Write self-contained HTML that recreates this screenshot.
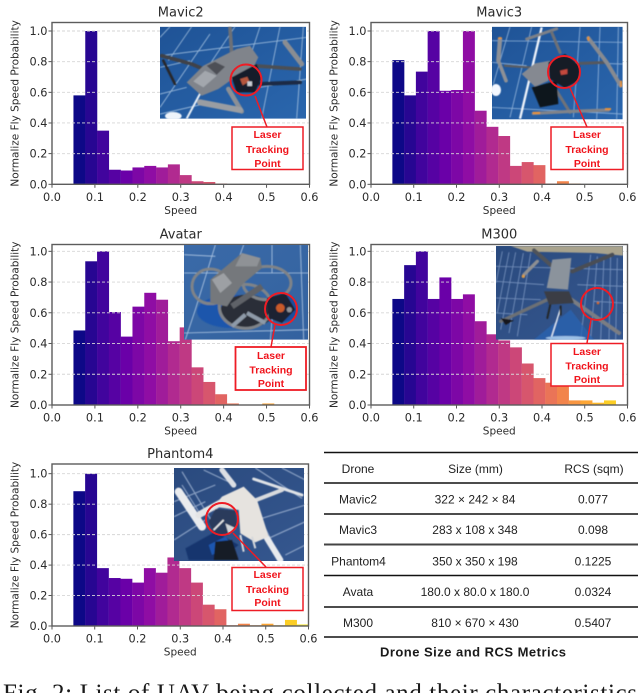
<!DOCTYPE html>
<html lang="en">
<head>
<meta charset="utf-8">
<title>UAV fly speed distributions and drone metrics</title>
<style>
html,body{margin:0;padding:0;background:#fff;width:640px;height:693px;overflow:hidden}
svg{display:block}
.title{font:13px "DejaVu Sans",sans-serif;fill:#2b2b2b;text-anchor:middle}
.tick{font:11.3px "DejaVu Sans",sans-serif;fill:#2b2b2b}
.axis-label{font:10.5px "DejaVu Sans",sans-serif;fill:#2b2b2b;text-anchor:middle}
.call{font:bold 10.5px "Liberation Sans",sans-serif;fill:#f0141c;text-anchor:middle}
.cell{font:12px "Liberation Sans",sans-serif;fill:#222;text-anchor:middle}
</style>
</head>
<body>
<svg id="figure" xmlns="http://www.w3.org/2000/svg" width="640" height="693" viewBox="0 0 640 693">
<defs>
<filter id="soft" x="-5%" y="-5%" width="110%" height="110%"><feGaussianBlur stdDeviation="1.8"/></filter>
<linearGradient id="panelA" x1="0" y1="0" x2="1" y2="1"><stop offset="0" stop-color="#1f5396"/><stop offset="1" stop-color="#2a66ad"/></linearGradient>
<linearGradient id="panelB" x1="0" y1="0" x2="1" y2="1"><stop offset="0" stop-color="#3a6aa8"/><stop offset="1" stop-color="#34629f"/></linearGradient>
<linearGradient id="panelC" x1="0" y1="0" x2="1" y2="1"><stop offset="0" stop-color="#2a4a7e"/><stop offset="1" stop-color="#35578f"/></linearGradient>
</defs>

<g id="plot-mavic2"></g>
<g id="plot-mavic3"></g>
<g id="plot-avatar"></g>
<g id="plot-m300"></g>
<g id="plot-phantom4"></g>

<!-- Mavic2 photo -->
<svg x="160" y="26.7" width="146" height="92" viewBox="0 8 438 276">
<rect x="0" y="8" width="438" height="276" fill="url(#panelA)"/>
<g filter="url(#soft)">
<g stroke="#b9d2ea" stroke-width="2.5" fill="none" opacity=".8"><path d="M0 40L30 8M25 110L95 8M0 250L150 30M150 120L225 8M300 8L270 100M360 8L305 284M430 8L410 284M0 95L440 40M0 210L80 190M300 190L440 165M0 270L130 240M0 130L90 110"/></g>
<path d="M80 284L125 200" stroke="#e8f0f8" stroke-width="6"/>
<ellipse cx="40" cy="276" rx="25" ry="12" fill="#eef4fb"/>
<g fill="none" stroke-linecap="round">
<path d="M5 95L95 120L130 135" stroke="#3f4248" stroke-width="11"/>
<path d="M10 110L45 180" stroke="#25272c" stroke-width="8"/>
<path d="M210 10L215 90" stroke="#6d7076" stroke-width="11"/>
<path d="M280 125L420 135" stroke="#4c4f55" stroke-width="11"/>
<path d="M375 55L425 120" stroke="#8a8d92" stroke-width="15"/>
<path d="M205 195L245 262" stroke="#8b8f95" stroke-width="14"/>
<path d="M120 235L240 258" stroke="#9a9da2" stroke-width="18"/>
<path d="M300 180L420 175" stroke="#1a2a44" stroke-width="12"/>
</g>
<path d="M80 175L130 125L230 75L270 65L295 100L280 130L210 170L175 195L125 215Z" fill="#80848b"/>
<path d="M100 172L135 140L170 155L130 190Z" fill="#a3a7ad"/>
<path d="M140 125L165 113L195 128L170 152Z" fill="#4d5056"/>
<path d="M215 160L290 120L305 160L285 205L230 205Z" fill="#161d2a"/>
<path d="M240 165L262 158L268 172L248 184Z" fill="#b5573d"/>
<rect x="262" y="172" width="14" height="14" fill="#c8ccd2"/>
</g>
</svg>

<!-- Mavic3 photo -->
<svg x="492" y="26.7" width="130.7" height="92.7" viewBox="6 8 392 278">
<rect x="6" y="8" width="392" height="278" fill="url(#panelA)"/>
<g filter="url(#soft)">
<g stroke="#a9c6e6" stroke-width="2.5" fill="none" opacity=".8"><path d="M60 8L10 180M125 8L60 280M270 8L250 280M330 8L320 286M385 8L380 286M6 50L400 55M6 115L110 125M250 115L400 120M6 250L400 270"/></g>
<path d="M155 10L90 284" stroke="#eef3fa" stroke-width="7"/>
<ellipse cx="18" cy="198" rx="15" ry="18" fill="#f4f8ff"/>
<g fill="none" stroke-linecap="round">
<path d="M110 45L200 14" stroke="#7d8087" stroke-width="9"/>
<path d="M185 25L210 85" stroke="#6d7076" stroke-width="9"/>
<path d="M30 45L25 110" stroke="#8d9096" stroke-width="13"/>
<path d="M25 110L48 170" stroke="#8d9096" stroke-width="11"/>
<path d="M45 125L120 130" stroke="#5a5d63" stroke-width="7"/>
<path d="M270 118L350 115" stroke="#55585e" stroke-width="9"/>
<path d="M295 42L350 115L392 185" stroke="#878a90" stroke-width="12"/>
<path d="M190 185L240 265" stroke="#6f7278" stroke-width="9"/>
<path d="M130 268L245 262L355 258" stroke="#80838a" stroke-width="10"/>
</g>
<path d="M95 150L135 118L180 110L175 170L135 188Z" fill="#858991"/>
<path d="M125 190L200 170L205 240L150 250Z" fill="#11151f"/>
<path d="M175 115L225 90L270 125L265 170L225 192L180 165Z" fill="#141a28"/>
<path d="M210 140L232 135L232 150L213 153Z" fill="#c44a3c"/>
<g fill="#e59234"><rect x="24" y="40" width="12" height="5"/><rect x="128" y="264" width="22" height="6"/><rect x="345" y="252" width="18" height="6"/><rect x="292" y="38" width="6" height="12"/><rect x="390" y="170" width="6" height="18"/></g>
</g>
</svg>

<!-- Avatar photo -->
<svg x="184" y="245" width="124" height="94.7" viewBox="6 6 372 284">
<rect x="6" y="6" width="372" height="284" fill="url(#panelB)"/>
<g filter="url(#soft)">
<g stroke="#c2d6ec" stroke-width="2.5" fill="none" opacity=".85"><path d="M100 6L40 200L10 290M185 6L165 60M270 6L270 90M355 6L365 290M6 90L380 90M6 270L380 260M270 230L265 290M6 35L100 40"/></g>
<ellipse cx="150" cy="205" rx="105" ry="50" fill="#1e56ac"/>
<ellipse cx="305" cy="195" rx="42" ry="42" fill="#1e4f9e"/>
<ellipse cx="195" cy="205" rx="80" ry="50" fill="#2a2e39"/>
<g fill="none" stroke="#7f8388" stroke-width="9">
<ellipse cx="85" cy="130" rx="55" ry="52"/>
<ellipse cx="255" cy="120" rx="72" ry="50"/>
<ellipse cx="190" cy="190" rx="78" ry="66"/>
</g>
<path d="M85 110L180 30L235 45L240 75L180 125L135 190L85 180Z" fill="#75787c"/>
<path d="M90 110L125 90L150 120L115 150Z" fill="#9da0a4"/>
<path d="M180 30L235 45L225 70L160 70Z" fill="#8f9296"/>
<path d="M150 190L240 130" stroke="#5f6267" stroke-width="18"/>
<path d="M195 210L250 240M190 215L150 250" stroke="#8e9aa8" stroke-width="12"/>
<path d="M255 165L310 150L340 200L300 240L260 225Z" fill="#1b2230"/>
<circle cx="295" cy="195" r="13" fill="#c85a2a"/>
<circle cx="322" cy="200" r="8" fill="#8e9196"/>
</g>
</svg>

<!-- M300 photo -->
<svg x="496" y="246" width="127" height="93.7" viewBox="6 9 381 281">
<rect x="6" y="9" width="381" height="281" fill="url(#panelC)"/>
<g filter="url(#soft)">
<path d="M50 9H387V38L300 30L100 26Z" fill="#a9a38d"/>
<g stroke="#9db5da" stroke-width="2.5" fill="none" opacity=".65"><path d="M25 25L6 120M65 28L20 260M110 30L70 280M290 35L260 290M330 40L320 290M370 45L365 290M6 70L387 80M6 115L150 125M250 125L387 130M6 165L140 170M300 175L387 180M6 210L100 215"/><path d="M45 28L10 210M88 30L45 270M310 40L290 290M350 42L345 290"/></g>
<path d="M120 290L230 200L300 290Z" fill="#2a64b2" opacity=".75"/>
<path d="M170 290L200 195" stroke="#e6eef8" stroke-width="4"/>
<ellipse cx="215" cy="285" rx="60" ry="6" fill="#9cc0e6"/>
<g fill="none" stroke-linecap="round">
<path d="M120 22L175 70" stroke="#50535a" stroke-width="12"/>
<path d="M355 35L235 85" stroke="#4a4d54" stroke-width="12"/>
<path d="M20 235L160 170" stroke="#6c6f75" stroke-width="10"/>
<path d="M225 165L375 270" stroke="#7a7d83" stroke-width="12"/>
<path d="M170 180L160 225M200 190L200 215" stroke="#24262c" stroke-width="6"/>
<path d="M90 95L130 55" stroke="#8d8f92" stroke-width="10"/>
</g>
<path d="M20 225L60 232L35 246Z" fill="#16181d"/>
<path d="M175 50L232 45L222 140L158 135Z" fill="#8b939c"/>
<path d="M150 145L225 145L240 180L165 185Z" fill="#3b3e45"/>
<circle cx="312" cy="180" r="4" fill="#d6692d"/>
<circle cx="88" cy="100" r="5" fill="#d89a4a"/>
</g>
</svg>

<!-- Phantom4 photo -->
<svg x="174" y="468" width="130" height="93" viewBox="6 9 390 279">
<rect x="6" y="9" width="390" height="279" fill="url(#panelC)"/>
<g filter="url(#soft)">
<g stroke="#a9bcd8" stroke-width="3.5" fill="none" opacity=".75"><path d="M30 20L120 170M95 15L190 60M6 110L130 60M6 155L100 110M6 225L100 165M270 160L400 120M290 220L400 170M340 270L400 240M30 60L80 140M250 9L390 100M330 9L400 45M250 130L320 270"/></g>
<path d="M40 250L130 200L200 240L140 285H50Z" fill="#17366e"/>
<path d="M110 240L160 215L180 240L120 270Z" fill="#1f57b0"/>
<path d="M125 285H200L180 225L130 230Z" fill="#171c28"/>
<g fill="none" stroke-linecap="round">
<path d="M20 80L90 185" stroke="#e9ebee" stroke-width="24"/>
<path d="M150 15L185 60" stroke="#dcdfe4" stroke-width="16"/>
<path d="M245 42L390 90" stroke="#dfe2e6" stroke-width="9"/>
<path d="M285 220L325 285" stroke="#e8eaed" stroke-width="18"/>
<path d="M80 150L170 100" stroke="#e4e4e5" stroke-width="20"/>
<path d="M240 110L330 75" stroke="#d8dadd" stroke-width="12"/>
</g>
<path d="M150 95L215 65L255 105L290 215L250 232L205 205L200 135L125 125Z" fill="#e6e3df"/>
<path d="M110 170L130 132L190 137L195 180L170 210L125 205Z" fill="#2a3a5c"/>
<path d="M125 195L155 165" stroke="#e6e8ea" stroke-width="5"/>
<path d="M160 175L192 190L170 208Z" fill="#d2d5d9"/>
<path d="M205 210L215 260M240 215L250 250" stroke="#d6d8db" stroke-width="6"/>
</g>
</svg>

<!-- Callouts -->
<g fill="none" stroke="#ee1c25">
<circle cx="246" cy="80" r="15.5" stroke-width="2"/><path d="M255 96L267 127" stroke-width="1.5"/>
<rect x="232" y="127" width="71" height="42.5" fill="#fff" stroke-width="1.5"/>
</g>
<g><text class="call" x="267.5" y="138">Laser</text><text class="call" x="267.5" y="153">Tracking</text><text class="call" x="267.5" y="167">Point</text></g>

<g fill="none" stroke="#ee1c25">
<circle cx="564" cy="72" r="16" stroke-width="2"/><path d="M570 88L587 127" stroke-width="1.5"/>
<rect x="551" y="127" width="72" height="42.5" fill="#fff" stroke-width="1.5"/>
</g>
<g><text class="call" x="587" y="138">Laser</text><text class="call" x="587" y="153">Tracking</text><text class="call" x="587" y="167">Point</text></g>

<g fill="none" stroke="#ee1c25">
<circle cx="281" cy="309" r="16" stroke-width="2"/><path d="M275 325L271 347" stroke-width="1.5"/>
<rect x="235.500" y="347" width="70.500" height="43" fill="#fff" stroke-width="1.800"/>
</g>
<g><text class="call" x="271" y="359">Laser</text><text class="call" x="271" y="373.500">Tracking</text><text class="call" x="271" y="387">Point</text></g>

<g fill="none" stroke="#ee1c25">
<circle cx="597" cy="304" r="16" stroke-width="2"/><path d="M591 320L587 343" stroke-width="1.5"/>
<rect x="551" y="343.500" width="72" height="42.500" fill="#fff" stroke-width="1.500"/>
</g>
<g><text class="call" x="587" y="355">Laser</text><text class="call" x="587" y="369.500">Tracking</text><text class="call" x="587" y="383">Point</text></g>

<g fill="none" stroke="#ee1c25">
<circle cx="222" cy="519" r="16" stroke-width="2"/><path d="M233 533L266 567" stroke-width="1.5"/>
<rect x="232" y="567.500" width="71" height="43" fill="#fff" stroke-width="1.500"/>
</g>
<g><text class="call" x="267.500" y="578">Laser</text><text class="call" x="267.500" y="593">Tracking</text><text class="call" x="267.500" y="606">Point</text></g>

<!-- Metrics table -->
<g>
<g stroke="#111" stroke-width="1.4">
<line x1="324" x2="638" y1="452.500" y2="452.500"/>
<line x1="324" x2="638" y1="483" y2="483"/>
<line x1="324" x2="638" y1="514" y2="514"/>
<line x1="324" x2="638" y1="544.500" y2="544.500" stroke="#444" stroke-width="2"/>
<line x1="324" x2="638" y1="575.500" y2="575.500"/>
<line x1="324" x2="638" y1="607" y2="607"/>
<line x1="324" x2="638" y1="637" y2="637"/>
</g>
<g><text class="cell" x="358" y="473">Drone</text><text class="cell" x="475.500" y="473">Size (mm)</text><text class="cell" x="594" y="473">RCS (sqm)</text></g>
<g><text class="cell" x="358" y="503.500">Mavic2</text><text class="cell" x="475" y="503.500">322 × 242 × 84</text><text class="cell" x="593" y="503.500">0.077</text></g>
<g><text class="cell" x="358" y="534">Mavic3</text><text class="cell" x="475" y="534">283 x 108 x 348</text><text class="cell" x="593" y="534">0.098</text></g>
<g><text class="cell" x="358.500" y="565.500">Phantom4</text><text class="cell" x="475" y="565.500">350 x 350 x 198</text><text class="cell" x="593" y="565.500">0.1225</text></g>
<g><text class="cell" x="358" y="596">Avata</text><text class="cell" x="475" y="596">180.0 x 80.0 x 180.0</text><text class="cell" x="593" y="596">0.0324</text></g>
<g><text class="cell" x="358" y="627">M300</text><text class="cell" x="475" y="627">810 × 670 × 430</text><text class="cell" x="593" y="627">0.5407</text></g>
<text x="380" y="656.500" font-family="'Liberation Sans',sans-serif" font-weight="bold" font-size="13" fill="#1a1a1a" textLength="186" lengthAdjust="spacing">Drone Size and RCS Metrics</text>
</g>

<text x="3" y="701" font-family="'Liberation Serif',serif" font-size="25" fill="#1a1a1a" textLength="634" lengthAdjust="spacing">Fig. 2: List of UAV being collected and their characteristics</text>
</svg>

<script>
const binStarts = [0.05,0.0775,0.105,0.1325,0.16,0.1875,0.215,0.2425,0.27,0.2975,0.325,0.3525,0.38,0.4075,0.435,0.4625,0.49,0.5175,0.545,0.5725];
const binWidth = 0.0275;
const xTickValues = [0,0.1,0.2,0.3,0.4,0.5,0.6];
const yTickValues = [0,0.2,0.4,0.6,0.8,1];
const mavic2Values = [0.58,1,0.35,0.095,0.09,0.11,0.12,0.11,0.13,0.06,0.02,0.015,0.005,0,0,0,0,0,0,0];
const mavic3Values = [0.81,0.58,0.735,1,0.61,0.615,1,0.48,0.375,0.315,0.12,0.145,0.125,0.005,0.02,0.005,0,0,0,0];
const avatarValues = [0.485,0.935,1,0.605,0.445,0.64,0.73,0.685,0.415,0.505,0.245,0.15,0.07,0.01,0,0,0.01,0,0,0];
const m300Values = [0.69,0.91,1,0.69,0.83,0.69,0.72,0.545,0.46,0.42,0.375,0.27,0.175,0.145,0.145,0.03,0.03,0.015,0.03,0];
const phantom4Values = [0.885,1,0.38,0.315,0.31,0.285,0.38,0.35,0.45,0.38,0.285,0.14,0.11,0.005,0.015,0.005,0.015,0.005,0.04,0.01];

const plasma = ['#0d0887','#41049d','#6a00a8','#8f0da4','#b12a90','#cc4778','#e16462','#f2844b','#fca636','#fcce25','#f0f921'];
const NS = 'http://www.w3.org/2000/svg';

function binColor(i) {
  const t = i / 20 * 10;
  const a = Math.floor(t);
  const b = Math.min(a + 1, 10);
  const f = t - a;
  const ca = plasma[a];
  const cb = plasma[b];
  let out = '#';
  for (let k = 1; k < 7; k += 2) {
    const v = Math.round(parseInt(ca.substr(k, 2), 16) * (1 - f) + parseInt(cb.substr(k, 2), 16) * f);
    out += v.toString(16).padStart(2, '0');
  }
  return out;
}

function make(parent, tag, attrs, text) {
  const el = document.createElementNS(NS, tag);
  for (const k in attrs) el.setAttribute(k, attrs[k]);
  if (text !== undefined) el.textContent = text;
  parent.appendChild(el);
  return el;
}

function drawChart(id, title, values, box) {
  const g = document.getElementById(id);
  const xs = function (v) { return box.left + v / 0.6 * (box.right - box.left); };
  const ys = function (v) { return box.zero - v * (box.zero - box.one); };

  const t = make(g, 'text', {class: 'title', x: (box.left + box.right) / 2, y: box.top - 6}, title);
  
  

  values.forEach(function (v, i) {
    if (v <= 0) return;
    const bar = make(g, 'rect', {
      x: xs(binStarts[i]),
      y: ys(v),
      width: xs(binStarts[i] + binWidth) - xs(binStarts[i]) + 0.2,
      height: ys(0) - ys(v),
      fill: binColor(i)
    });
    
    
  });

  yTickValues.forEach(function (v) {
    const y = ys(v);
    if (v > 0) {
      const grid = make(g, 'line', {x1: box.left, x2: box.right, y1: y, y2: y, stroke: '#d6d6d6', 'stroke-width': 0.9, 'stroke-dasharray': '3 2'});
      
      
    }
    const mark = make(g, 'line', {x1: box.left - 3.5, x2: box.left, y1: y, y2: y, stroke: '#444', 'stroke-width': 0.9});
    
    
    const lab = make(g, 'text', {class: 'tick', x: box.left - 4.5, y: y + 4, 'text-anchor': 'end'}, v.toFixed(1));
    
    
  });

  xTickValues.forEach(function (v) {
    const x = xs(v);
    const mark = make(g, 'line', {x1: x, x2: x, y1: box.zero, y2: box.zero + 3.5, stroke: '#444', 'stroke-width': 0.9});
    
    
    const lab = make(g, 'text', {class: 'tick', x: x, y: box.zero + 16.5, 'text-anchor': 'middle'}, v.toFixed(1));
    
    
  });

  const frame = make(g, 'rect', {x: box.left, y: box.top, width: box.right - box.left, height: box.zero - box.top, fill: 'none', stroke: '#5c5c5c', 'stroke-width': 1.4});
  
  

  const xl = make(g, 'text', {class: 'axis-label', x: (box.left + box.right) / 2, y: box.zero + 29.5}, 'Speed');
  
  

  const yx = box.left - 33.5;
  const yy = (box.top + box.zero) / 2;
  const yl = make(g, 'text', {class: 'axis-label', x: yx, y: yy, transform: 'rotate(-90 ' + yx + ' ' + yy + ')'}, 'Normalize Fly Speed Probability');
  
  
}

drawChart('plot-mavic2', 'Mavic2', mavic2Values, {left: 52, right: 309.5, top: 22.5, zero: 184.3, one: 31});
drawChart('plot-mavic3', 'Mavic3', mavic3Values, {left: 371, right: 627.5, top: 22.5, zero: 184.3, one: 31});
drawChart('plot-avatar', 'Avatar', avatarValues, {left: 52, right: 309.5, top: 244.5, zero: 405, one: 251.3});
drawChart('plot-m300', 'M300', m300Values, {left: 371, right: 627.5, top: 244.5, zero: 405, one: 251.3});
drawChart('plot-phantom4', 'Phantom4', phantom4Values, {left: 52, right: 308.5, top: 464, zero: 626, one: 473.7});
</script>
</body>
</html>
